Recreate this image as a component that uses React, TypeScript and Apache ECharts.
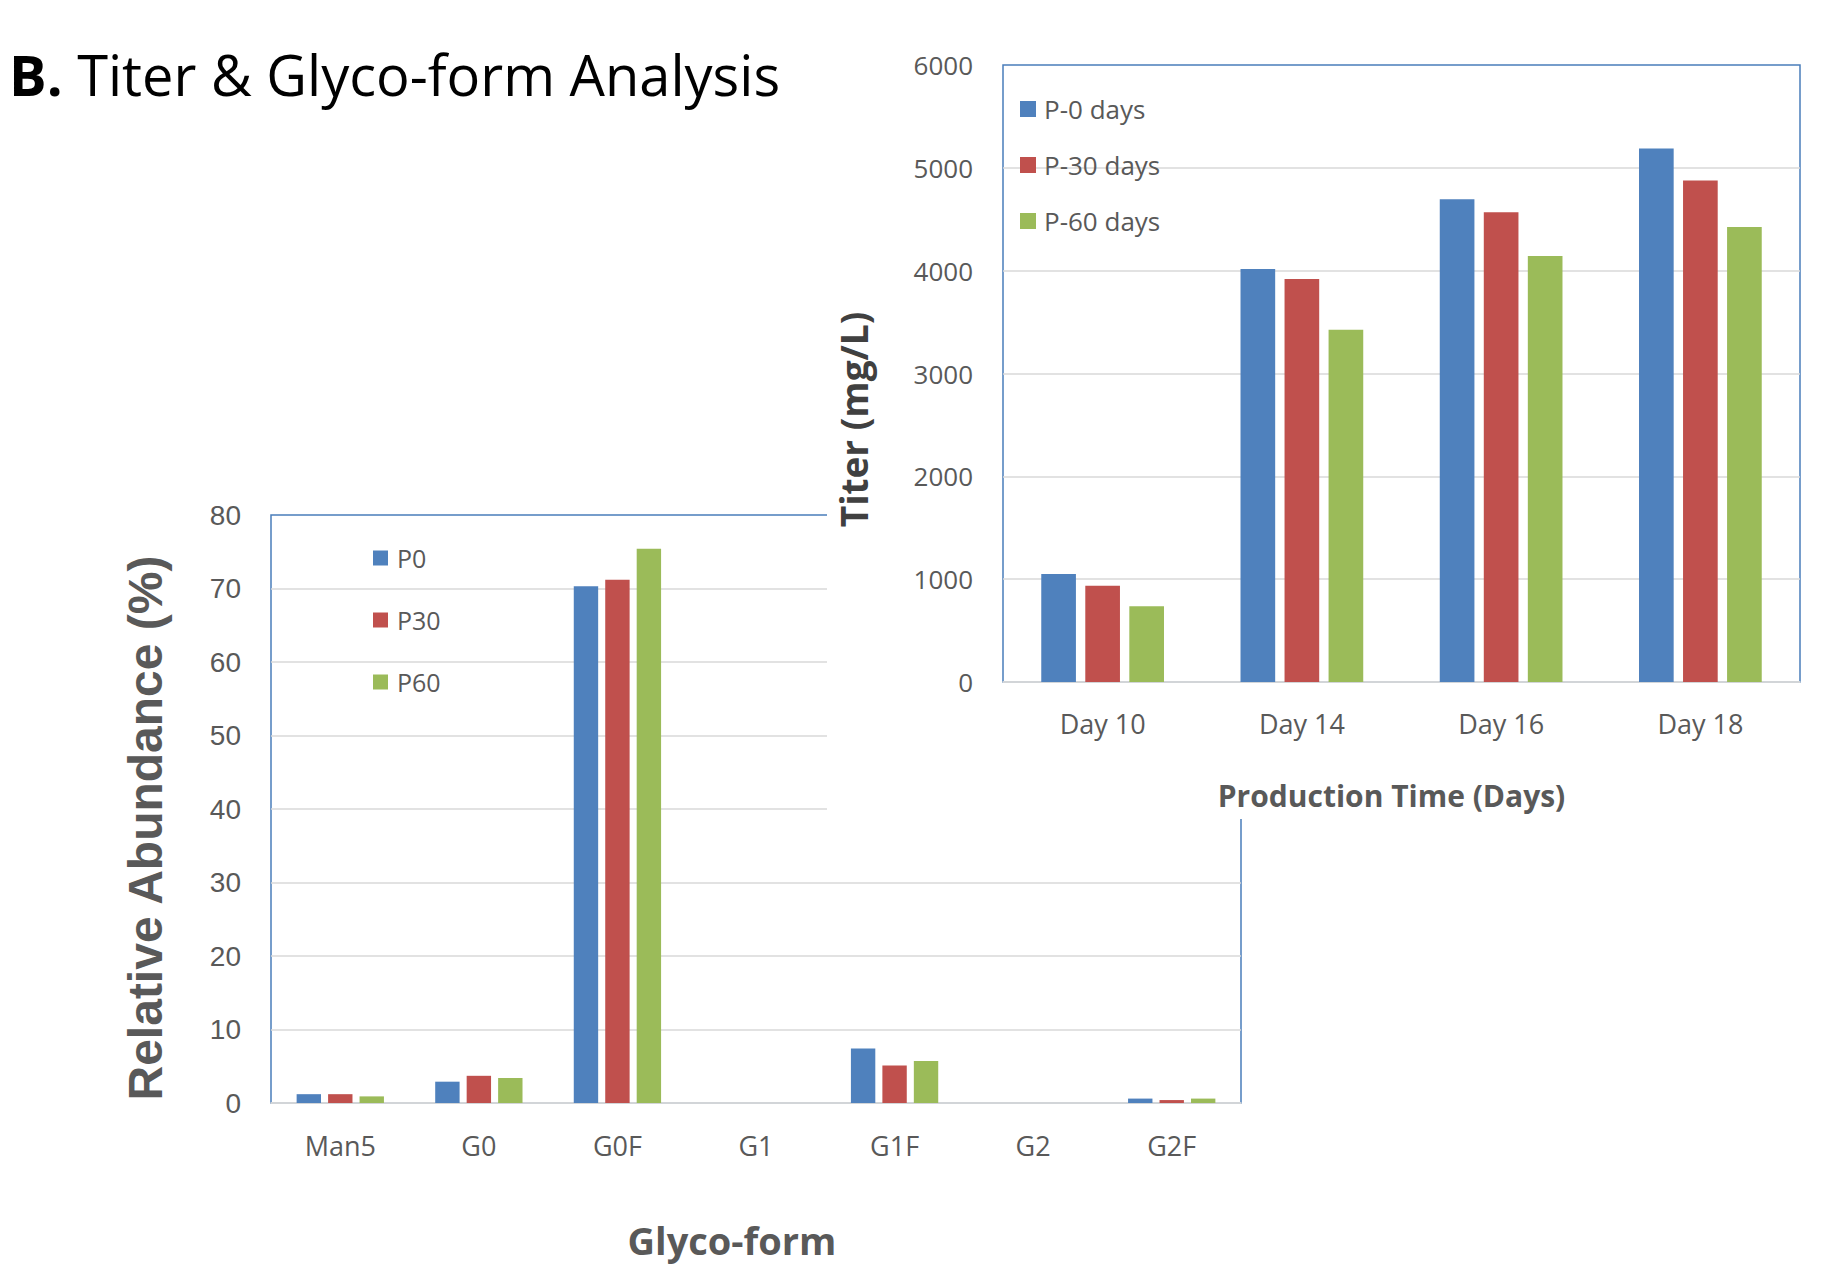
import React, { useEffect, useRef } from "react";
import * as echarts from "echarts";

// Glyco-form distribution (% relative abundance)
const glycoForms = ["Man5", "G0", "G0F", "G1", "G1F", "G2", "G2F"];
const glycoP0 = [1.2, 2.9, 70.3, 0, 7.4, 0, 0.6];
const glycoP30 = [1.2, 3.7, 71.2, 0, 5.1, 0, 0.4];
const glycoP60 = [0.9, 3.4, 75.4, 0, 5.7, 0, 0.6];
const glycoSeriesNames = ["P0", "P30", "P60"];

// Titer over production time (mg/L)
const titerDays = ["Day 10", "Day 14", "Day 16", "Day 18"];
const titerP0 = [1050, 4016, 4695, 5188];
const titerP30 = [935, 3919, 4568, 4877];
const titerP60 = [737, 3425, 4143, 4425];
const titerSeriesNames = ["P-0 days", "P-30 days", "P-60 days"];

const COLORS = ["#4F81BD", "#C0504D", "#9BBB59"];
const FONT = "'Open Sans', 'Noto Sans', sans-serif";
const ARIAL = "'Liberation Sans', Arial, sans-serif";
const GRID_GRAY = "#D9D9D9";
const FRAME_BLUE = "#4A7EBB";
const LABEL_GRAY = "#595959";

// split lines: hide the one at the top, where the frame border sits
const splitColors = (n: number) =>
  Array.from({ length: n }, (_, i) => (i === n - 1 ? "rgba(0,0,0,0)" : GRID_GRAY));

function glycoOption(): echarts.EChartsOption {
  const groups = [glycoP0, glycoP30, glycoP60];
  return {
    animation: false,
    backgroundColor: "#ffffff",
    color: COLORS,
    textStyle: { fontFamily: FONT },
    graphic: [
      {
        type: "text",
        x: 9,
        y: 74,
        style: {
          text: "{b|B.}{r| Titer & Glyco-form Analysis}",
          verticalAlign: "middle",
          fill: "#000",
          rich: {
            b: { fontFamily: FONT, fontSize: 56, fontWeight: "bold", fill: "#000" },
            r: { fontFamily: FONT, fontSize: 56, fill: "#000" },
          },
        } as any,
      },
    ],
    grid: {
      left: 271,
      right: 580,
      top: 515,
      bottom: 168,
      show: true,
      borderColor: FRAME_BLUE,
      borderWidth: 1.5,
      backgroundColor: "rgba(0,0,0,0)",
    },
    legend: {
      orient: "vertical",
      left: 373,
      top: 545,
      padding: 0,
      icon: "rect",
      itemWidth: 15,
      itemHeight: 15,
      itemGap: 36,
      data: glycoSeriesNames,
      textStyle: {
        fontFamily: FONT,
        fontSize: 25,
        lineHeight: 26,
        color: LABEL_GRAY,
        padding: [0, 0, 0, 4],
      },
    },
    xAxis: {
      type: "category",
      data: glycoForms,
      axisLine: { lineStyle: { color: GRID_GRAY, width: 1.5 } },
      axisTick: { show: false },
      axisLabel: { color: LABEL_GRAY, fontFamily: FONT, fontSize: 27, margin: 29 },
      name: "Glyco-form",
      nameLocation: "middle",
      nameGap: 118,
      nameTextStyle: {
        fontFamily: FONT,
        fontSize: 38,
        lineHeight: 38,
        fontWeight: "bold",
        color: LABEL_GRAY,
        padding: [0, 48, 0, 0],
      },
    },
    yAxis: {
      type: "value",
      min: 0,
      max: 80,
      interval: 10,
      axisLine: { show: false },
      axisTick: { show: false },
      axisLabel: { color: LABEL_GRAY, fontFamily: ARIAL, fontSize: 28, margin: 30 },
      splitLine: { lineStyle: { color: splitColors(9), width: 1.5 } },
      name: "Relative Abundance (%)",
      nameLocation: "middle",
      nameGap: 102,
      nameTextStyle: {
        fontFamily: ARIAL,
        fontSize: 48,
        lineHeight: 48,
        fontWeight: "bold",
        color: LABEL_GRAY,
        padding: [0, 38, 0, 0],
      },
    },
    series: groups.map((data, i) => ({
      type: "bar",
      name: glycoSeriesNames[i],
      data,
      barWidth: "17.6%",
      barGap: "29%",
    })),
  };
}

function titerOption(): echarts.EChartsOption {
  const groups = [titerP0, titerP30, titerP60];
  return {
    animation: false,
    backgroundColor: "#ffffff",
    color: COLORS,
    textStyle: { fontFamily: FONT },
    grid: {
      left: 171,
      right: 21,
      top: 65,
      bottom: 137,
      show: true,
      borderColor: FRAME_BLUE,
      borderWidth: 1.5,
      backgroundColor: "rgba(0,0,0,0)",
    },
    legend: {
      orient: "vertical",
      left: 193,
      top: 96,
      padding: 0,
      icon: "rect",
      itemWidth: 16,
      itemHeight: 16,
      itemGap: 30,
      data: titerSeriesNames,
      textStyle: {
        fontFamily: FONT,
        fontSize: 26,
        lineHeight: 26,
        color: LABEL_GRAY,
        padding: [0, 0, 0, 3],
      },
    },
    xAxis: {
      type: "category",
      data: titerDays,
      axisLine: { lineStyle: { color: GRID_GRAY, width: 1.5 } },
      axisTick: { show: false },
      axisLabel: { color: LABEL_GRAY, fontFamily: FONT, fontSize: 27, margin: 28 },
      name: "Production Time (Days)",
      nameLocation: "middle",
      nameGap: 98,
      nameTextStyle: {
        fontFamily: FONT,
        fontSize: 30,
        lineHeight: 30,
        fontWeight: "bold",
        color: LABEL_GRAY,
        padding: [0, 20, 0, 0],
      },
    },
    yAxis: {
      type: "value",
      min: 0,
      max: 6000,
      interval: 1000,
      axisLine: { show: false },
      axisTick: { show: false },
      axisLabel: {
        color: LABEL_GRAY,
        fontFamily: FONT,
        fontSize: 26,
        margin: 30,
        formatter: (v: number) => String(v),
      },
      splitLine: { lineStyle: { color: splitColors(7), width: 1.5 } },
      name: "Titer (mg/L)",
      nameLocation: "middle",
      nameGap: 131,
      nameTextStyle: {
        fontFamily: FONT,
        fontSize: 37,
        lineHeight: 37,
        fontWeight: "bold",
        color: "#404040",
        padding: [0, 92, 0, 0],
      },
    },
    series: groups.map((data, i) => ({
      type: "bar",
      name: titerSeriesNames[i],
      data,
      barWidth: "17.4%",
      barGap: "27%",
    })),
  };
}

function useChart(ref: React.RefObject<HTMLDivElement>, build: () => echarts.EChartsOption) {
  useEffect(() => {
    if (!ref.current) return;
    const chart = echarts.init(ref.current, undefined, { renderer: "svg" });
    chart.setOption(build());
    return () => chart.dispose();
  }, []);
}

export default function App() {
  const glycoRef = useRef<HTMLDivElement>(null);
  const titerRef = useRef<HTMLDivElement>(null);
  useChart(glycoRef, glycoOption);
  useChart(titerRef, titerOption);

  return (
    <div style={{ position: "absolute", left: 0, top: 0, width: 1821, height: 1271, background: "#fff" }}>
      <div
        ref={glycoRef}
        style={{ position: "absolute", left: 0, top: 0, width: 1821, height: 1271 }}
      />
      <div
        ref={titerRef}
        style={{
          position: "absolute",
          left: 827,
          top: 0,
          width: 994,
          height: 819,
          background: "#fff",
          zIndex: 2,
        }}
      />
    </div>
  );
}
